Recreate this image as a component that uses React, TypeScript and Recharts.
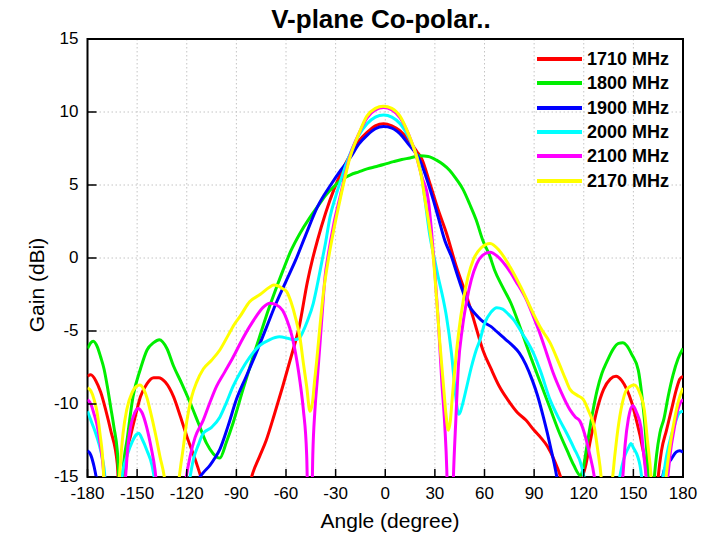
import { LineChart, Line, XAxis, YAxis, CartesianGrid, ReferenceArea, Legend } from "recharts"

type Pt = [number, number]

const FONT = '"Liberation Sans", Arial, Helvetica, sans-serif'

const angleTicks = [-180, -150, -120, -90, -60, -30, 0, 30, 60, 90, 120, 150, 180]
const gainTicks = [-15, -10, -5, 0, 5, 10, 15]

// [angle (deg), gain (dBi)]; values under -15 fall outside the frame
const red1710: Pt[] = [
  [-180, -8.1], [-178, -8.0], [-175, -8.4], [-172, -9.2], [-169, -10.4], [-166, -11.8], [-162, -14.1], [-160, -18],
  [-158, -16], [-156, -13.2], [-154, -12.2], [-151, -10.8], [-148, -9.5], [-144, -8.6], [-140, -8.2], [-137, -8.2],
  [-133, -8.5], [-128, -9.5], [-124, -10.8], [-120, -12.2], [-114, -14.1], [-111, -15.2], [-106, -18], [-98, -20],
  [-88, -19], [-82, -15.5], [-80, -14.7], [-76, -13.6], [-72, -12.5], [-67, -10.7], [-62, -8.8], [-57, -6.8],
  [-52, -4.7], [-47, -1.6], [-44, -0.1], [-41, 1.2], [-36, 3.1], [-31, 4.7], [-26, 6.0], [-21, 7.1], [-16, 8.0],
  [-11, 8.6], [-6, 9.05], [-1, 9.2], [4, 9.05], [9, 8.7], [14, 8.1], [19, 7.3], [22, 6.8], [27, 5.1], [32, 3.3],
  [37, 1.7], [43, -0.6], [47, -1.9], [50, -2.9], [55, -4.8], [59, -6.3], [64, -7.6], [69, -8.8], [74, -9.7],
  [80, -10.6], [85, -11.1], [90, -11.8], [94, -12.3], [98, -12.9], [102, -13.8], [106, -15], [110, -17], [114, -17],
  [118, -15.4], [121, -14.3], [124, -12.5], [128, -10.4], [132, -9.0], [136, -8.3], [139.5, -8.1], [143, -8.4],
  [146, -9.0], [149, -9.9], [152, -11.2], [155, -12.7], [158, -15], [160, -20], [163, -18], [165, -15], [167, -13.2],
  [170, -11.8], [173, -10.4], [176, -9.0], [178, -8.3], [180, -8.1],
]

const green1800: Pt[] = [
  [-180, -6.2], [-178, -5.8], [-176.5, -5.7], [-174, -6.1], [-172, -6.8], [-170, -7.6], [-168, -8.8], [-166, -10.2],
  [-164, -11.6], [-162, -13.2], [-160.5, -16], [-159.5, -17], [-158.4, -14.5], [-156, -12.4], [-152.5, -9.5],
  [-148, -7.6], [-144, -6.3], [-140, -5.8], [-136.6, -5.6], [-132, -6.2], [-128, -7.4], [-123, -8.6], [-118, -9.9],
  [-113, -11.3], [-108, -12.7], [-104, -13.4], [-100, -13.7], [-96, -12.6], [-92, -11.3], [-86, -9.0], [-80, -6.8],
  [-76, -5.4], [-72, -4.0], [-67, -2.4], [-62, -0.9], [-57, 0.5], [-51.5, 1.7], [-46, 2.7], [-41, 3.5], [-36, 4.3],
  [-31, 4.9], [-26, 5.4], [-21, 5.7], [-16, 5.9], [-11, 6.1], [-6, 6.25], [-1, 6.4], [5, 6.6], [10, 6.75], [15, 6.85],
  [21, 7.0], [26, 6.95], [31, 6.7], [35, 6.4], [39, 6.0], [43, 5.4], [47, 4.7], [51, 3.7], [55, 2.6], [59, 1.2],
  [63, 0.2], [66, -0.8], [71, -2.0], [76, -3.1], [82, -4.9], [88, -6.8], [94, -8.6], [100, -10.4], [105, -11.9],
  [110, -13.2], [114, -14.2], [118, -14.9], [120, -14.2], [122, -12.8], [125, -10.8], [128, -9.1], [131, -7.9],
  [134, -7.1], [138, -6.2], [141, -5.85], [143.6, -5.8], [146, -6.0], [149, -6.6], [153, -7.7], [155, -9.3],
  [157, -11.5], [159, -15], [160.5, -19], [162, -16], [164, -13.5], [166, -12], [168.5, -11], [171, -9.5],
  [174, -8.0], [177, -6.9], [180, -6.2],
]

const blue1900: Pt[] = [
  [-180, -13.2], [-178, -13.5], [-176, -14.3], [-174, -15.5], [-171, -18], [-165, -21], [-150, -22], [-135, -22],
  [-122, -19], [-116, -16.5], [-112, -15], [-110, -14.7], [-106, -14.2], [-103, -13.7], [-100, -13.1], [-95, -11.5],
  [-90, -9.7], [-84, -8.1], [-78, -6.5], [-72, -4.8], [-66, -3.1], [-60, -1.6], [-54, -0.1], [-48, 1.6], [-41, 3.5],
  [-33, 5.0], [-27, 6.0], [-21, 6.9], [-16, 7.8], [-11, 8.4], [-6, 8.85], [-1, 9.0], [4, 8.9], [9, 8.5], [14, 7.8],
  [20, 6.9], [23, 6.1], [26, 5.1], [29, 4.0], [32, 2.8], [36, 1.2], [40, 0.1], [44, -1.3], [49, -2.9], [52, -3.5],
  [55, -3.9], [58, -4.25], [61, -4.5], [64, -4.7], [67, -5.0], [70, -5.3], [73, -5.6], [77, -6.0], [81, -6.5],
  [85, -7.3], [89, -8.4], [92, -9.4], [95.6, -10.9], [98, -12.0], [100, -13.0], [102, -14.0], [104, -15.2],
  [108, -19], [120, -22], [150, -22], [160, -19], [166, -16], [168.7, -14.5], [172.8, -13.8], [175.8, -13.3],
  [178, -13.2], [180, -13.3],
]

const cyan2000: Pt[] = [
  [-180, -10.5], [-178, -11.1], [-176, -11.7], [-174.5, -12.2], [-172, -13.2], [-170, -14.4], [-168, -17],
  [-165, -19], [-161, -16.5], [-158.5, -14.5], [-156, -13.5], [-153, -12.6], [-150.5, -12.1], [-149, -12.0],
  [-147, -12.4], [-144, -13.2], [-141, -14.2], [-139, -15.5], [-135, -19], [-128, -21], [-122, -18], [-118, -15],
  [-116, -13.8], [-113, -12.8], [-110, -12.0], [-105, -11.6], [-100, -10.9], [-96, -9.9], [-92, -8.8], [-87, -7.7],
  [-82, -6.8], [-76, -6.0], [-70, -5.6], [-64, -5.4], [-59, -5.5], [-55.5, -5.6], [-52, -5.5], [-50, -5.1],
  [-47, -4.3], [-43.5, -3.1], [-41, -1.8], [-38.4, -0.3], [-36, 1.1], [-33.4, 2.8], [-30, 4.2], [-27, 5.3],
  [-21, 7.2], [-16, 8.4], [-11, 9.2], [-6, 9.65], [-1, 9.8], [4, 9.65], [9, 9.2], [14, 8.3], [19, 7.0], [22, 5.6],
  [24, 4.0], [27, 1.5], [30, -0.2], [32, -1.3], [35, -2.8], [37, -4.0], [40, -6.5], [42, -8.8], [43.5, -10.3],
  [44.3, -10.7], [45.5, -10.5], [47, -9.9], [49.3, -8.8], [52, -7.5], [55, -6.3], [57.3, -5.6], [60, -4.5],
  [64, -3.7], [67.4, -3.4], [71, -3.5], [74, -3.8], [77.4, -4.2], [83, -5.2], [89.5, -6.5], [94, -7.8],
  [99.6, -9.7], [105, -11.0], [109.7, -12.0], [114, -13.0], [118.8, -14.3], [121, -15.5], [125, -19], [132, -21],
  [138, -18], [141, -15.5], [143, -14.3], [145, -13.5], [147, -13.0], [148.6, -12.7], [150, -13.0], [152.6, -13.6],
  [154, -14.2], [155.5, -15.5], [158, -19], [163, -19], [166, -16], [168, -15], [170, -13.6], [172.8, -12.2],
  [175, -11.4], [177.8, -10.6], [180, -10.5],
]

const magenta2100: Pt[] = [
  [-180, -9.7], [-178, -10.0], [-176, -10.7], [-174.5, -11.3], [-172.5, -12.6], [-170.4, -14.5], [-168.5, -18],
  [-164, -22], [-160, -19], [-157, -15], [-155.5, -12.8], [-154, -11.6], [-151.5, -10.6], [-149.3, -10.3],
  [-147, -10.6], [-144.2, -11.6], [-141.5, -13], [-139.2, -14.5], [-137, -17], [-132, -21], [-125, -19],
  [-121, -15.5], [-118, -13.6], [-115, -12.3], [-110, -11.1], [-106, -9.9], [-102, -8.8], [-97, -7.8], [-92, -6.8],
  [-87, -5.7], [-82, -4.7], [-78, -4.0], [-74, -3.4], [-69.7, -3.1], [-66, -3.2], [-62, -3.6], [-59.6, -4.2],
  [-56.5, -5.3], [-53.5, -7.0], [-51.5, -8.5], [-49.5, -10.4], [-47.5, -13.5], [-45.5, -25], [-43.8, -13.5],
  [-42.5, -10.4], [-41, -8.2], [-39.4, -5.8], [-38, -3.6], [-36.4, -1.3], [-34.5, 0.2], [-31, 2.4], [-27.3, 4.2],
  [-21.3, 7.0], [-16, 8.5], [-11, 9.6], [-6, 10.15], [-1, 10.3], [4, 10.15], [9, 9.6], [14, 8.5], [19, 6.9],
  [22, 5.6], [26, 4.0], [28, 1.8], [30, -1.0], [32, -4.2], [34.2, -8.5], [36, -11.5], [37.2, -14.5], [39, -25],
  [41.2, -15], [42.7, -11], [44.2, -7.4], [46.5, -4.9], [49.3, -2.9], [52, -1.5], [55.3, -0.4], [59, 0.2],
  [63.4, 0.4], [68, 0.1], [73.4, -0.6], [79, -1.6], [85.5, -2.9], [89.5, -4.0], [93.6, -5.2], [97.5, -6.5],
  [101.6, -7.9], [106, -9.1], [111.7, -10.4], [115, -10.9], [117.8, -11.2], [120.4, -12.0], [123.5, -13.4],
  [126.4, -15], [130, -19], [136, -21], [141, -17], [143.6, -15], [145, -12.8], [147, -11], [149.6, -10.1],
  [152, -10.6], [154.6, -11.6], [156, -13.2], [157.7, -15], [160, -19], [165, -21], [168.5, -17], [170.8, -15],
  [172.5, -13.2], [174.5, -11.8], [176.8, -10.4], [178.5, -9.9], [180, -9.7],
]

const yellow2170: Pt[] = [
  [-180, -8.9], [-178, -9.1], [-176, -9.7], [-174.5, -10.4], [-172.5, -12.0], [-170.4, -14.5], [-169, -19],
  [-166, -22], [-162.5, -18], [-160.4, -14.5], [-158.5, -12], [-156.3, -10.4], [-153, -9.2], [-150.5, -8.8],
  [-148.3, -8.7], [-146, -9.0], [-144, -9.6], [-142.2, -10.4], [-139, -12], [-136.2, -13.6], [-133, -15.5],
  [-130, -20], [-127, -18], [-124.5, -15], [-122, -12.9], [-120, -11.2], [-117, -9.5], [-114, -8.5], [-110, -7.6],
  [-105, -7.0], [-100, -6.3], [-95, -5.3], [-91, -4.5], [-87.8, -4.0], [-82, -3.0], [-75.7, -2.5], [-70, -2.0],
  [-67.5, -1.85], [-65, -1.9], [-62, -2.1], [-59.6, -2.3], [-57, -3.0], [-54, -4.2], [-51.5, -5.5], [-49.5, -7.2],
  [-47.5, -8.8], [-45.5, -10.5], [-44, -9.9], [-42.8, -8.5], [-41.4, -7.0], [-39.5, -4.7], [-37.4, -2.4],
  [-34.4, -0.1], [-31, 2.0], [-27.3, 4.0], [-21.3, 6.9], [-16, 8.5], [-11.2, 9.7], [-6, 10.25], [-1.2, 10.4],
  [4, 10.25], [9, 9.7], [14, 8.5], [19, 6.9], [22, 5.5], [24, 4.0], [26.5, 2.3], [29, 0.1], [31.1, -2.9],
  [33, -5.8], [35.1, -8.6], [36.8, -10.8], [38.1, -11.8], [39.3, -11.2], [40.5, -9.6], [42.2, -7.4], [44.5, -5.0],
  [47.2, -2.9], [50, -1.3], [53.3, -0.1], [58, 0.7], [63.4, 1.0], [69, 0.5], [75.4, -0.6], [82, -2.0], [89.5, -3.8],
  [94, -4.8], [99.6, -5.8], [105, -7.2], [109, -8.3], [111.7, -9.0], [116, -9.4], [119.8, -9.7], [123, -10.5],
  [126.4, -11.6], [128.5, -13.2], [130.5, -15], [133, -20], [135.5, -18], [137.5, -15], [140, -12.3],
  [142.5, -10.4], [146, -9.0], [150.6, -8.7], [154, -9.3], [156.6, -10.4], [158.5, -12.5], [160.7, -15], [163, -20],
  [167, -20], [169.8, -15], [172, -13], [174.8, -11.1], [177, -9.9], [180, -8.9],
]

const series = [
  { name: "1710 MHz", color: "#ff0000", points: red1710 },
  { name: "1800 MHz", color: "#00ee00", points: green1800 },
  { name: "1900 MHz", color: "#0000ff", points: blue1900 },
  { name: "2000 MHz", color: "#00ffff", points: cyan2000 },
  { name: "2100 MHz", color: "#ff00ff", points: magenta2100 },
  { name: "2170 MHz", color: "#ffff00", points: yellow2170 },
]

// tickSize/tickMargin are 0, so x/y arrive on the frame edge and marks point inward
function LeftTick({ x, y, payload }: any) {
  return (
    <g>
      <line x1={x} x2={x + 9} y1={y} y2={y} stroke="#000" strokeWidth={1.5} />
      <text x={x - 9} y={y + 5} textAnchor="end" fontSize={17} fontFamily={FONT} fill="#000">{payload.value}</text>
    </g>
  )
}

function BottomTick({ x, y, payload }: any) {
  return (
    <g>
      <line x1={x} x2={x} y1={y} y2={y - 8} stroke="#000" strokeWidth={1.5} />
      <text x={x} y={y + 22} textAnchor="middle" fontSize={17} fontFamily={FONT} fill="#000">{payload.value}</text>
    </g>
  )
}

function RightTick({ x, y }: any) {
  return <line x1={x - 4} x2={x} y1={y} y2={y} stroke="#000" strokeWidth={1.5} />
}

function LegendBox() {
  return (
    <div>
      {series.map(s => (
        <div key={s.name} style={{ display: "flex", alignItems: "center", height: 24.3 }}>
          <span style={{ display: "inline-block", width: 45, height: 4, background: s.color, marginRight: 5 }} />
          <span style={{ fontFamily: FONT, fontWeight: 700, fontSize: 18, color: "#000", lineHeight: 1 }}>{s.name}</span>
        </div>
      ))}
    </div>
  )
}

export default function App() {
  return (
    <div style={{ position: "absolute", left: 0, top: 0, width: 702, height: 538, background: "#fff" }}>
      <svg width={702} height={40} style={{ position: "absolute", left: 0, top: 0 }}>
        <text x={381} y={28} textAnchor="middle" fontSize={26} fontWeight={700} fontFamily={FONT} fill="#000">
          V-plane Co-polar..
        </text>
      </svg>
      <LineChart width={702} height={538} margin={{ top: 39, right: 9, bottom: 21, left: 27.5 }}>
        <CartesianGrid stroke="#c4c4c4" strokeDasharray="1.5 2.5" />
        <XAxis
          type="number"
          dataKey="angle"
          domain={[-180, 180]}
          ticks={angleTicks}
          interval={0}
          allowDataOverflow
          axisLine={false}
          tickLine={false}
          tickSize={0}
          tickMargin={0}
          height={40}
          tick={<BottomTick />}
          label={{
            content: () => (
              <text x={390} y={528} textAnchor="middle" fontSize={21} fontFamily={FONT} fill="#000">Angle (degree)</text>
            ),
          }}
        />
        <YAxis
          type="number"
          domain={[-15, 15]}
          ticks={gainTicks}
          interval={0}
          allowDataOverflow
          axisLine={false}
          tickLine={false}
          tickSize={0}
          tickMargin={0}
          width={60}
          tick={<LeftTick />}
          label={{
            content: () => (
              <text x={36} y={285} transform="rotate(-90 36 285)" textAnchor="middle" dominantBaseline="central"
                fontSize={21} fontFamily={FONT} fill="#000">Gain (dBi)</text>
            ),
          }}
        />
        <YAxis
          yAxisId="right"
          orientation="right"
          type="number"
          domain={[-15, 15]}
          ticks={gainTicks}
          interval={0}
          axisLine={false}
          tickLine={false}
          tickSize={0}
          tickMargin={0}
          width={10}
          tick={<RightTick />}
        />
        {series.map(s => (
          <Line
            key={s.name}
            name={s.name}
            type="monotone"
            data={s.points.map(([angle, gain]) => ({ angle, gain }))}
            dataKey="gain"
            stroke={s.color}
            strokeWidth={3}
            dot={false}
            activeDot={false}
            isAnimationActive={false}
          />
        ))}
        <ReferenceArea x1={-180} x2={180} y1={-15} y2={15} fill="none" fillOpacity={0} stroke="#000" strokeWidth={2} />
        <Legend
          layout="vertical"
          align="center"
          verticalAlign="middle"
          content={<LegendBox />}
          wrapperStyle={{ left: 537, top: 47, width: 150, height: 150 }}
        />
      </LineChart>
    </div>
  )
}
